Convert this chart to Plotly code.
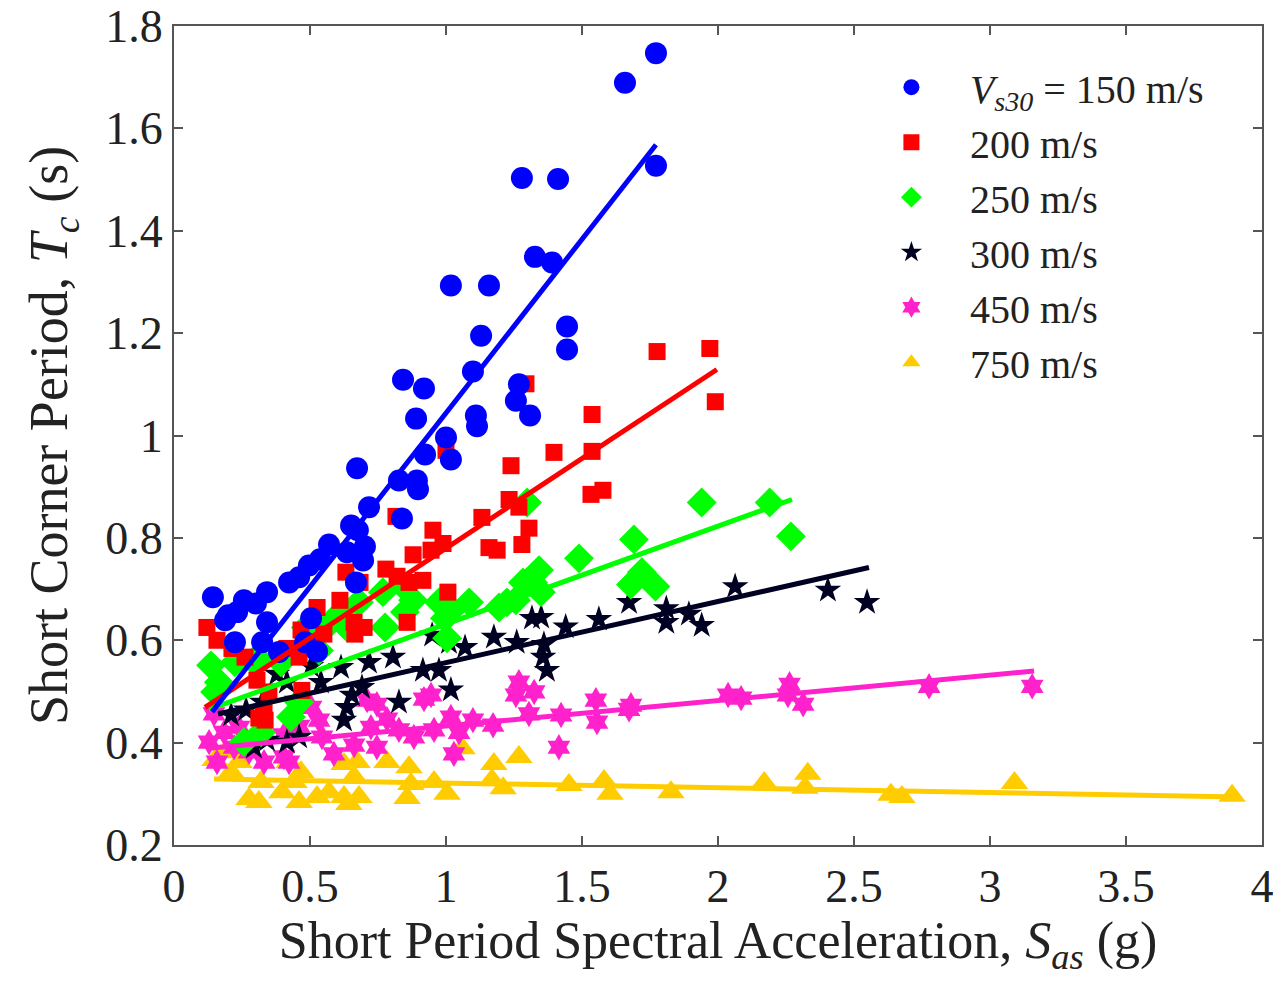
import plotly.graph_objects as go

# ---------------- data ----------------
sa_150 = [1.772, 1.658, 1.772, 1.279, 1.412, 1.018, 1.158, 1.327, 1.390, 1.445, 1.445, 1.129,
          1.099, 1.268, 0.842, 0.919, 1.309, 1.110, 1.114, 1.257, 0.890, 1.000, 1.018, 0.923,
          0.893, 0.897, 0.827, 0.838, 0.673, 0.717, 0.651, 0.676, 0.702, 0.695, 0.669, 0.570,
          0.636, 0.537, 0.496, 0.460, 0.423, 0.342, 0.301, 0.257, 0.232, 0.199, 0.143, 0.188,
          0.224, 0.342, 0.482, 0.504, 0.526, 0.324, 0.386]
tc_150 = [1.747, 1.689, 1.527, 1.503, 1.501, 1.293, 1.293, 1.349, 1.338, 1.213, 1.168, 1.195,
          1.125, 1.100, 1.109, 1.092, 1.039, 1.039, 1.018, 1.068, 1.033, 0.996, 0.953, 0.963,
          0.912, 0.895, 0.912, 0.838, 0.936, 0.860, 0.824, 0.815, 0.783, 0.756, 0.713, 0.787,
          0.772, 0.758, 0.746, 0.723, 0.713, 0.694, 0.672, 0.678, 0.655, 0.649, 0.684, 0.639,
          0.596, 0.635, 0.596, 0.643, 0.578, 0.596, 0.577]

sa_200 = [1.97, 1.99, 1.776, 1.537, 1.537, 1.533, 1.577, 1.397, 1.294, 1.239, 1.232, 1.268,
          1.305, 1.279, 1.158, 1.188, 1.132, 1.000, 0.952, 0.989, 0.945, 1.007, 0.879, 0.864,
          0.915, 0.816, 0.779, 0.820, 0.857, 0.684, 0.632, 0.662, 0.610, 0.699, 0.665, 0.526,
          0.551, 0.467, 0.415, 0.460, 0.349, 0.305, 0.261, 0.158, 0.121, 0.213, 0.312, 0.335,
          0.331, 0.470]
tc_200 = [1.170, 1.066, 1.164, 1.041, 0.969, 0.885, 0.893, 0.967, 1.101, 0.941, 0.875, 0.860,
          0.819, 0.787, 0.781, 0.776, 0.840, 0.971, 0.815, 0.789, 0.776, 0.694, 0.767, 0.713,
          0.717, 0.842, 0.739, 0.725, 0.635, 0.713, 0.733, 0.635, 0.678, 0.625, 0.612, 0.664,
          0.612, 0.620, 0.584, 0.567, 0.499, 0.522, 0.567, 0.600, 0.625, 0.584, 0.448, 0.444,
          0.459, 0.502]

sa_250 = [1.94, 2.19, 2.268, 1.691, 1.680, 1.720, 1.770, 1.489, 1.342, 1.320, 1.349, 1.298,
          1.283, 1.257, 1.224, 1.195, 1.085, 1.022, 0.996, 0.974, 1.004, 0.879, 0.849, 0.776,
          0.768, 0.846, 0.680, 0.614, 0.636, 0.577, 0.485, 0.504, 0.533, 0.393, 0.298, 0.224,
          0.165, 0.136, 0.151, 0.460, 0.257, 0.320, 0.430, 0.305]
tc_250 = [0.869, 0.869, 0.803, 0.797, 0.709, 0.733, 0.705, 0.760, 0.737, 0.713, 0.694, 0.869,
          0.713, 0.678, 0.674, 0.664, 0.674, 0.659, 0.643, 0.674, 0.604, 0.678, 0.655, 0.625,
          0.694, 0.704, 0.674, 0.655, 0.625, 0.635, 0.625, 0.596, 0.580, 0.557, 0.557, 0.557,
          0.518, 0.551, 0.499, 0.479, 0.401, 0.420, 0.450, 0.567]

sa_300 = [2.063, 2.404, 2.548, 1.940, 1.893, 1.810, 1.810, 1.673, 1.562, 1.440, 1.360, 1.350,
          1.316, 1.260, 1.371, 1.357, 1.176, 1.070, 1.011, 0.949, 1.018, 0.974, 0.915, 0.827,
          0.805, 0.717, 0.691, 0.625, 0.636, 0.654, 0.614, 0.540, 0.504, 0.415, 0.379, 0.452,
          0.265, 0.210, 0.342, 0.415, 0.460, 0.294, 0.324]
tc_300 = [0.705, 0.698, 0.674, 0.629, 0.651, 0.662, 0.635, 0.674, 0.641, 0.626, 0.592, 0.645,
          0.643, 0.596, 0.541, 0.567, 0.606, 0.586, 0.596, 0.610, 0.503, 0.541, 0.541, 0.479,
          0.567, 0.557, 0.508, 0.444, 0.469, 0.493, 0.547, 0.518, 0.549, 0.518, 0.534, 0.483,
          0.464, 0.454, 0.405, 0.401, 0.411, 0.391, 0.479]

sa_450 = [3.155, 2.776, 2.263, 2.257, 2.313, 2.037, 2.085, 1.680, 1.673, 1.551, 1.555, 1.423,
          1.415, 1.305, 1.173, 1.099, 1.048, 1.018, 0.956, 0.919, 0.945, 1.268, 1.324, 1.257,
          1.029, 0.882, 0.827, 0.783, 0.746, 0.710, 0.724, 0.746, 0.662, 0.588, 0.544, 0.533,
          0.504, 0.460, 0.404, 0.404, 0.423, 0.331, 0.276, 0.184, 0.147, 0.129, 0.221, 0.158,
          0.239]
tc_450 = [0.510, 0.510, 0.514, 0.493, 0.475, 0.493, 0.487, 0.473, 0.465, 0.483, 0.440, 0.454,
          0.391, 0.456, 0.434, 0.444, 0.420, 0.450, 0.425, 0.485, 0.493, 0.518, 0.499, 0.493,
          0.378, 0.411, 0.425, 0.446, 0.475, 0.483, 0.430, 0.391, 0.395, 0.378, 0.411, 0.444,
          0.469, 0.432, 0.415, 0.372, 0.362, 0.362, 0.382, 0.420, 0.456, 0.401, 0.391, 0.362,
          0.430]

sa_750 = [3.890, 3.090, 2.330, 2.320, 2.636, 2.676, 2.170, 1.827, 1.603, 1.581, 1.452, 1.268,
          1.210, 1.176, 1.169, 1.059, 1.004, 0.956, 0.864, 0.857, 0.871, 0.783, 0.673, 0.625,
          0.625, 0.643, 0.570, 0.526, 0.460, 0.467, 0.441, 0.423, 0.320, 0.312, 0.276, 0.239,
          0.210, 0.151, 0.188, 0.397, 0.680, 0.662]
tc_750 = [0.296, 0.321, 0.339, 0.312, 0.298, 0.294, 0.321, 0.303, 0.300, 0.325, 0.317, 0.372,
          0.311, 0.358, 0.327, 0.389, 0.300, 0.323, 0.352, 0.292, 0.319, 0.362, 0.362, 0.358,
          0.294, 0.280, 0.303, 0.294, 0.284, 0.342, 0.323, 0.362, 0.323, 0.284, 0.290, 0.362,
          0.342, 0.366, 0.381, 0.303, 0.294, 0.333]

# trend lines: [start, end]
fit_sa_150 = [0.14, 1.772]; fit_tc_150 = [0.460, 1.568]
fit_sa_200 = [0.114, 1.996]; fit_tc_200 = [0.469, 1.129]
fit_sa_250 = [0.129, 2.272]; fit_tc_250 = [0.465, 0.875]
fit_sa_300 = [0.162, 2.555]; fit_tc_300 = [0.456, 0.742]
fit_sa_450 = [0.129, 3.162]; fit_tc_450 = [0.389, 0.540]
fit_sa_750 = [0.147, 3.915]; fit_tc_750 = [0.329, 0.294]

series_names = ["<i>V</i><sub><i>s30</i></sub> = 150 m/s", "200 m/s", "250 m/s",
                "300 m/s", "450 m/s", "750 m/s"]
x_ticks = [0, 0.5, 1, 1.5, 2, 2.5, 3, 3.5, 4]
x_tick_text = ["0", "0.5", "1", "1.5", "2", "2.5", "3", "3.5", "4"]
y_ticks = [0.2, 0.4, 0.6, 0.8, 1, 1.2, 1.4, 1.6, 1.8]
y_tick_text = ["0.2", "0.4", "0.6", "0.8", "1", "1.2", "1.4", "1.6", "1.8"]

# ---------------- figure ----------------
FONT = "Liberation Serif, Times New Roman, serif"
TXT = "#222222"
styles = [
    dict(color="#0000ff", symbol="circle", size=22),
    dict(color="#ff0000", symbol="square", size=17),
    dict(color="#00ff00", symbol="diamond", size=23),
    dict(color="#000022", symbol="star", size=20),
    dict(color="#ff22cc", symbol="hexagram", size=20),
    dict(color="#ffcc00", symbol="triangle-up", size=24),
]
pts = [(sa_150, tc_150), (sa_200, tc_200), (sa_250, tc_250),
       (sa_300, tc_300), (sa_450, tc_450), (sa_750, tc_750)]
fits = [(fit_sa_150, fit_tc_150), (fit_sa_200, fit_tc_200), (fit_sa_250, fit_tc_250),
        (fit_sa_300, fit_tc_300), (fit_sa_450, fit_tc_450), (fit_sa_750, fit_tc_750)]

fig = go.Figure()
order = [5, 4, 3, 2, 1, 0]
for i in order:
    st = styles[i]
    fig.add_trace(go.Scatter(
        x=pts[i][0], y=pts[i][1], mode="markers", name=series_names[i],
        marker=dict(color=st["color"], symbol=st["symbol"], size=st["size"], line=dict(width=0)),
        legendrank=i + 1,
    ))
for i in order:
    fig.add_trace(go.Scatter(
        x=fits[i][0], y=fits[i][1], mode="lines", showlegend=False,
        line=dict(color=styles[i]["color"], width=5),
    ))

axis_common = dict(
    showgrid=False, zeroline=False, showline=True, linecolor="#555555", linewidth=2,
    mirror="ticks", ticks="inside", ticklen=9, tickwidth=1.5, tickcolor="#555555",
    tickfont=dict(family=FONT, size=46, color=TXT), automargin=False,
    ticklabeloverflow="allow",
)
fig.update_xaxes(range=[0, 4], tickvals=x_ticks, ticktext=x_tick_text,
                 title=dict(text="Short Period Spectral Acceleration, <i>S</i><sub><i>as</i></sub> (g)",
                            font=dict(family=FONT, size=52, color=TXT), standoff=4),
                 **axis_common)
fig.update_yaxes(range=[0.2, 1.8], tickvals=y_ticks, ticktext=y_tick_text,
                 title=dict(text="Short Corner Period, <i>T</i><sub><i>c</i></sub> (s)",
                            font=dict(family=FONT, size=54, color=TXT), standoff=20),
                 **axis_common)
fig.update_layout(
    width=1273, height=990,
    margin=dict(l=174, r=11, t=26, b=145),
    paper_bgcolor="white", plot_bgcolor="white",
    showlegend=True,
    legend=dict(x=0.624, y=0.965, xanchor="left", yanchor="top",
                bgcolor="rgba(0,0,0,0)", borderwidth=0,
                font=dict(family=FONT, size=40, color=TXT),
                tracegroupgap=0, itemsizing="trace", itemwidth=107),
)
fig.write_html("out.html")
